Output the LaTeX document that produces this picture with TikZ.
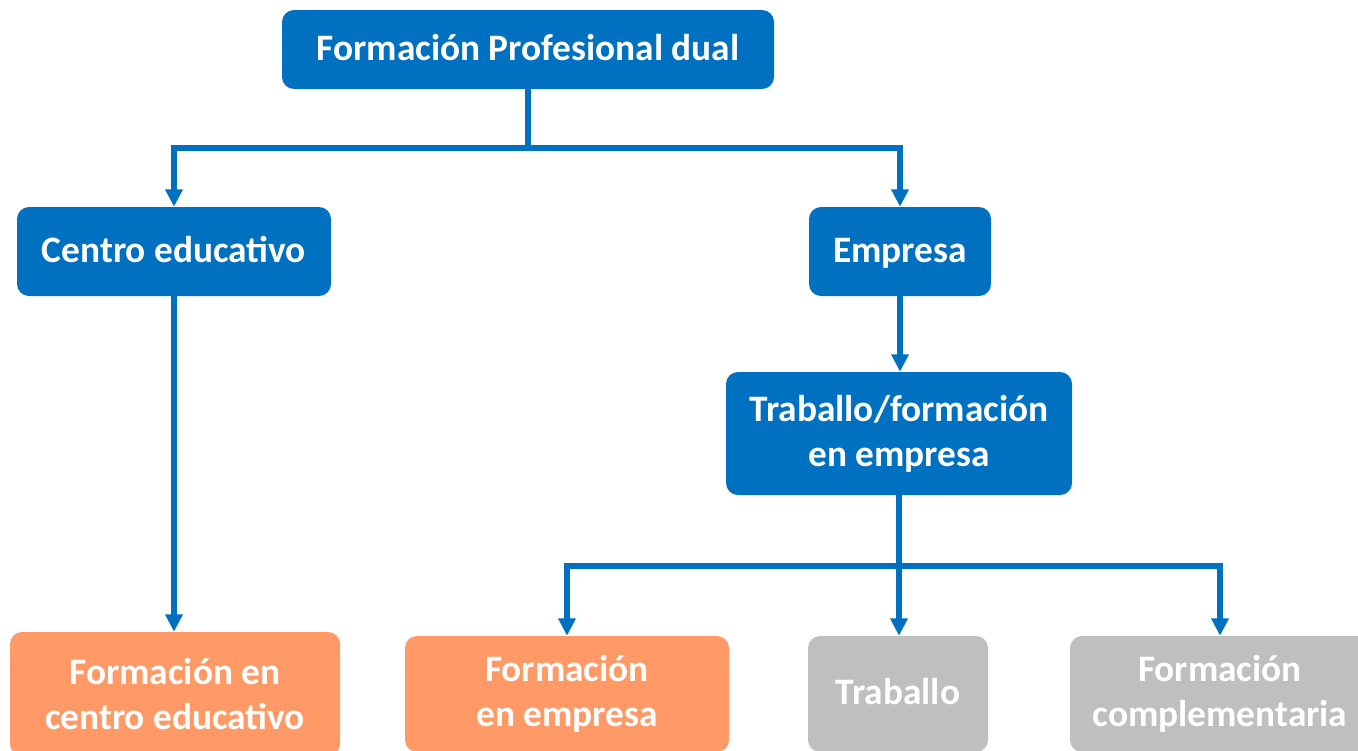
\documentclass[tikz,border=0pt]{standalone}
\usepackage{fontspec}
\setmainfont{Carlito}
\usetikzlibrary{arrows.meta}
\definecolor{bblue}{HTML}{0070C0}
\definecolor{borange}{HTML}{FF9966}
\definecolor{bgray}{HTML}{BFBFBF}
\begin{document}
\begin{tikzpicture}[x=0.75pt,y=-0.75pt,
  box/.style={rounded corners=9pt,text=white,font=\fontsize{28}{34}\selectfont\bfseries,align=center,inner sep=0pt},
  single/.style={text height=19pt,text depth=3pt},
  bluebox/.style={box,fill=bblue},
  orangebox/.style={box,fill=borange},
  graybox/.style={box,fill=bgray},
  conn/.style={draw=bblue,line width=3.9pt},
  arr/.style={conn,-{Triangle[width=12.5pt,length=13pt]}}]
\useasboundingbox (0,0) rectangle (1358,750);
\clip (0,0) rectangle (1358,750);
\node[bluebox,single,minimum width=492*0.75pt,minimum height=79*0.75pt] (top) at (528,49.5) {Formación Profesional dual};
\node[bluebox,single,minimum width=314*0.75pt,minimum height=89*0.75pt] (centro) at (174,251.5) {Centro educativo};
\node[bluebox,single,minimum width=182*0.75pt,minimum height=89*0.75pt] (empresa) at (900,251.5) {Empresa};
\node[bluebox,minimum width=346*0.75pt,minimum height=123*0.75pt] (tfe) at (899,433.5) {Traballo/formación\\en empresa};
\node[orangebox,minimum width=330*0.75pt,minimum height=124*0.75pt] (fce) at (175,694) {Formación en\\centro educativo};
\node[orangebox,minimum width=324*0.75pt,minimum height=116*0.75pt] (fe) at (567,694) {Formación\\en empresa};
\node[graybox,single,minimum width=180*0.75pt,minimum height=116*0.75pt] (trab) at (898,694) {Traballo};
\node[graybox,minimum width=300*0.75pt,minimum height=116*0.75pt] (fcomp) at (1220,694) {Formación\\complementaria};
\coordinate (j1) at (528,148);
\coordinate (j2) at (900,566);
\draw[conn] (top.south) -- (j1);
\draw[arr] (j1) -| (centro.north);
\draw[arr] (j1) -| (empresa.north);
\draw[arr] (centro.south) -- (centro.south |- fce.north);
\draw[arr] (empresa.south) -- (empresa.south |- tfe.north);
\draw[conn] (tfe.south) -- (tfe.south |- j2);
\draw[arr] (j2) -| (fe.north);
\draw[arr] (tfe.south |- j2) -- (tfe.south |- trab.north);
\draw[arr] (j2) -| (fcomp.north);
\end{tikzpicture}
\end{document}
